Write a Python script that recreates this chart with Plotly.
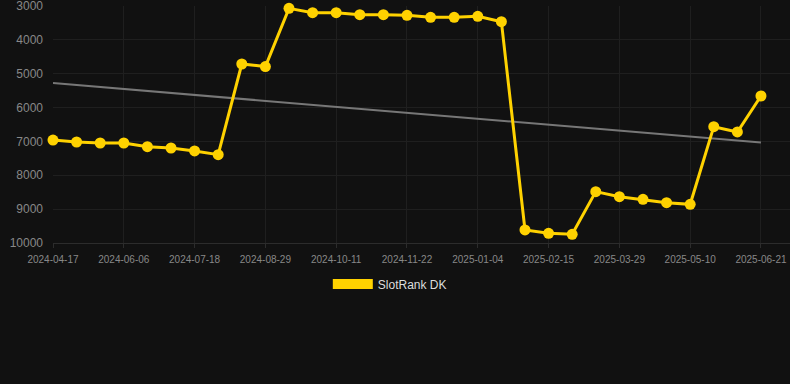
import numpy as np
import plotly.graph_objects as go

dates = [
    "2024-04-17", "2024-05-04", "2024-05-20", "2024-06-06", "2024-06-20", "2024-07-04",
    "2024-07-18", "2024-08-01", "2024-08-15", "2024-08-29", "2024-09-12", "2024-09-26",
    "2024-10-11", "2024-10-25", "2024-11-08", "2024-11-22", "2024-12-06", "2024-12-20",
    "2025-01-04", "2025-01-18", "2025-02-01", "2025-02-15", "2025-03-01", "2025-03-15",
    "2025-03-29", "2025-04-12", "2025-04-26", "2025-05-10", "2025-05-24", "2025-06-07",
    "2025-06-21",
]
rank = [
    6960, 7017, 7046, 7046, 7155, 7194, 7282, 7390,
    4713, 4790,
    3070, 3197, 3197, 3256, 3256, 3276, 3335, 3335, 3305, 3463,
    9615, 9714, 9744,
    8483, 8631, 8710, 8808, 8857,
    6564, 6721, 5658,
]
series_name = "SlotRank DK"
y_ticks = [3000, 4000, 5000, 6000, 7000, 8000, 9000, 10000]
y_labels = [str(v) for v in y_ticks]

idx = np.arange(len(rank))
slope, intercept = np.polyfit(idx, rank, 1)
trend = (slope * idx + intercept).tolist()

gold = "#FFD200"
fig = go.Figure()
fig.add_trace(go.Scatter(
    x=dates, y=trend, mode="lines",
    line=dict(color="#777777", width=2),
    showlegend=False, hoverinfo="skip",
))
fig.add_trace(go.Scatter(
    x=dates, y=rank, mode="lines+markers",
    line=dict(color=gold, width=3),
    marker=dict(color=gold, size=11),
    showlegend=False, cliponaxis=False,
))
fig.add_trace(go.Scatter(
    x=[None], y=[None], mode="lines",
    line=dict(color=gold, width=11),
    name=series_name, showlegend=True,
))

fig.update_layout(
    width=790, height=384,
    margin=dict(l=53, r=0, t=6, b=141),
    paper_bgcolor="#111111", plot_bgcolor="#111111",
    font=dict(family="Liberation Sans, Arial, sans-serif", color="#888888"),
    legend=dict(
        orientation="h", x=0.457, xanchor="center", y=-0.173, yanchor="middle",
        font=dict(size=12, color="#dddddd"), itemwidth=40,
    ),
)
fig.update_xaxes(
    type="category", range=[0, 31.23],
    tickvals=dates[::3], ticktext=dates[::3],
    showgrid=True, gridcolor="#1f1f1f", gridwidth=1,
    showline=True, linecolor="#2c2c2c", linewidth=1,
    ticks="outside", ticklen=4, tickcolor="#2c2c2c",
    tickfont=dict(size=10, color="#888888"),
    ticklabelstandoff=3,
    zeroline=False,
)
fig.update_yaxes(
    range=[10000, 3000], tickvals=y_ticks, ticktext=y_labels,
    showgrid=True, gridcolor="#1f1f1f", gridwidth=1,
    tickfont=dict(size=12, color="#888888"),
    ticks="", ticklabelstandoff=9, ticklabeloverflow="allow",
    zeroline=False,
)
fig.write_html("out.html")
